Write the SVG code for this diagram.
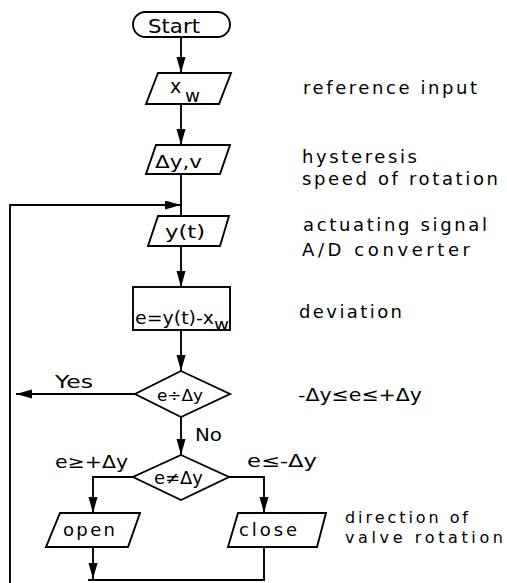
<svg xmlns="http://www.w3.org/2000/svg" width="507" height="583" viewBox="0 0 507 583">
<style>
.s{fill:#fff;stroke:#000;stroke-width:1.9;stroke-linejoin:miter}
.c{fill:none;stroke:#000;stroke-width:1.9}
text{font-family:"DejaVu Sans","Liberation Sans",sans-serif;font-size:17px;fill:#000}
.r{font-size:18px}
.t{font-size:16px}
</style>
<defs>
<marker id="ah" markerUnits="userSpaceOnUse" markerWidth="16" markerHeight="10" refX="16" refY="4.5" orient="auto">
<path d="M0,0 L16,4.5 L0,9 z" fill="#000"/>
</marker>
</defs>
<rect width="507" height="583" fill="#fff"/>
<g id="connectors">
<line class="c" x1="181" y1="37" x2="181" y2="73" marker-end="url(#ah)"/>
<line class="c" x1="181" y1="104" x2="181" y2="145" marker-end="url(#ah)"/>
<line class="c" x1="181" y1="174" x2="181" y2="216"/>
<polyline class="c" points="10,583 10,205 181,205" marker-end="url(#ah)"/>
<line class="c" x1="181" y1="246" x2="181" y2="287" marker-end="url(#ah)"/>
<line class="c" x1="181" y1="330" x2="181" y2="371" marker-end="url(#ah)"/>
<line class="c" x1="135" y1="394" x2="16" y2="394" marker-end="url(#ah)"/>
<line class="c" x1="181" y1="417" x2="181" y2="455" marker-end="url(#ah)"/>
<polyline class="c" points="133,477 93,477 93,513" marker-end="url(#ah)"/>
<polyline class="c" points="229,477 264,477 264,513" marker-end="url(#ah)"/>
<line class="c" x1="93" y1="547" x2="93" y2="579" marker-end="url(#ah)"/>
<polyline class="c" points="264,547 264,580 88,580"/>
<text class="r" x="55" y="388" textLength="38" lengthAdjust="spacingAndGlyphs">Yes</text>
<text class="r" x="195" y="441" textLength="27" lengthAdjust="spacingAndGlyphs">No</text>
<text x="55" y="468" textLength="73" lengthAdjust="spacingAndGlyphs">e≥+Δy</text>
<text x="247" y="467" textLength="70" lengthAdjust="spacingAndGlyphs">e≤-Δy</text>
</g>
<g id="start">
<rect class="s" x="133" y="12" width="97" height="25" rx="12.5"/>
<text x="148" y="33" style="font-size:20px" textLength="52" lengthAdjust="spacingAndGlyphs">Start</text>
</g>
<g id="xw">
<polygon class="s" points="158,73 231,73 219,104 146,104"/>
<text x="170" y="93" style="font-size:19px">x</text>
<text x="185" y="102" textLength="15" lengthAdjust="spacingAndGlyphs">w</text>
<text class="r" x="303" y="94" textLength="174" lengthAdjust="spacing">reference input</text>
</g>
<g id="hyst">
<polygon class="s" points="156,145 230,145 220,174 146,174"/>
<text x="155" y="168" textLength="47" lengthAdjust="spacingAndGlyphs">Δy,v</text>
<text class="r" x="302" y="163" textLength="115" lengthAdjust="spacing">hysteresis</text>
<text class="r" x="302" y="185" textLength="196" lengthAdjust="spacing">speed of rotation</text>
</g>
<g id="yt">
<polygon class="s" points="158,216 229,216 220,246 148,246"/>
<text x="165" y="238" textLength="40" lengthAdjust="spacingAndGlyphs">y(t)</text>
<text class="r" x="303" y="231" textLength="184" lengthAdjust="spacing">actuating signal</text>
<text class="r" x="302" y="256" textLength="168" lengthAdjust="spacing">A/D converter</text>
</g>
<g id="dev">
<rect class="s" x="133" y="287" width="97" height="43"/>
<text x="135" y="324" style="font-size:18px" textLength="79" lengthAdjust="spacingAndGlyphs">e=y(t)-x</text>
<text x="214" y="330" style="font-size:16px" textLength="15" lengthAdjust="spacingAndGlyphs">w</text>
<text class="r" x="299" y="318" textLength="103" lengthAdjust="spacing">deviation</text>
</g>
<g id="dec1">
<polygon class="s" points="181,371 230,394 181,417 135,394"/>
<text x="157" y="401" style="font-size:15px" textLength="46" lengthAdjust="spacingAndGlyphs">e÷Δy</text>
<text class="r" x="298" y="401" textLength="124" lengthAdjust="spacingAndGlyphs">-Δy≤e≤+Δy</text>
</g>
<g id="dec2">
<polygon class="s" points="181,455 229,477 181,500 133,477"/>
<text x="154" y="484" textLength="49" lengthAdjust="spacingAndGlyphs">e≠Δy</text>
</g>
<g id="open">
<polygon class="s" points="60,513 140,513 128,547 46,547"/>
<text class="r" x="63" y="536" textLength="52" lengthAdjust="spacing">open</text>
</g>
<g id="close">
<polygon class="s" points="238,513 326,513 317,547 228,547"/>
<text class="r" x="239" y="536" textLength="58" lengthAdjust="spacing">close</text>
<text class="t" x="345" y="523" textLength="123" lengthAdjust="spacing">direction of</text>
<text class="t" x="345" y="543" textLength="158" lengthAdjust="spacing">valve rotation</text>
</g>
</svg>
